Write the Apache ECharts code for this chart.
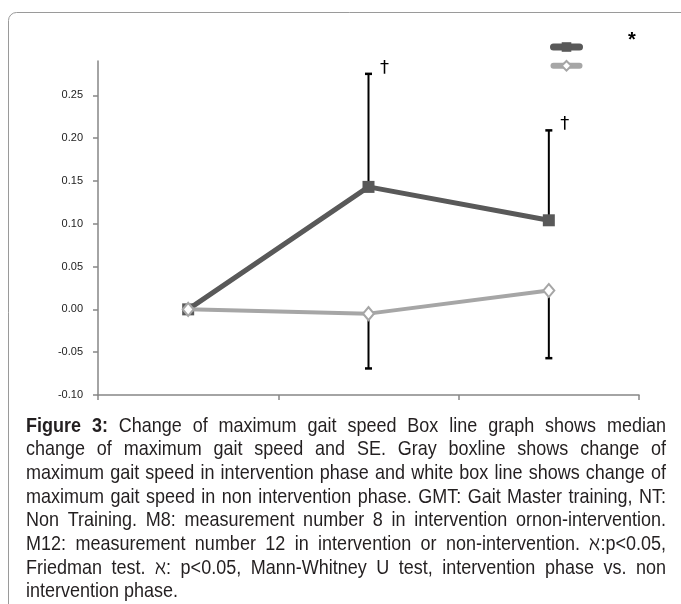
<!DOCTYPE html>
<html>
<head>
<meta charset="utf-8">
<script src="https://cdn.jsdelivr.net/npm/echarts@6/dist/echarts.min.js"></script>
<style>html,body{margin:0;padding:0;background:#fff}#c{width:681px;height:604px}</style>
</head>
<body>
<div id="c"></div>
<script>
// ---- data ----
const categories = ['Start', 'M8', 'M12'];
const gmtValues = [0, 0.143, 0.104];          // dark series (GMT)
const ntValues = [0, -0.005, 0.022];          // light series (NT)
const gmtErrEnd = [null, 0.275, 0.209];       // upper SE bar end
const ntErrEnd = [null, -0.069, -0.057];      // lower SE bar end
const gmtMarks = ['', '†', '†'];
const yTicks = { min: -0.10, max: 0.29, interval: 0.05 };
const captionLines = [
  'Figure 3: Change of maximum gait speed Box line graph shows median',
  'change of maximum gait speed and SE. Gray boxline shows change of',
  'maximum gait speed in intervention phase and white box line shows change of',
  'maximum gait speed in non intervention phase. GMT: Gait Master training, NT:',
  'Non Training. M8: measurement number 8 in intervention ornon-intervention.',
  'M12: measurement number 12 in intervention or non-intervention. \u2135:p<0.05,',
  'Friedman test. \u2135: p<0.05, Mann-Whitney U test, intervention phase vs. non',
  'intervention phase.'
];
const boldWords = 2; // "Figure 3:" bold on first line

// ---- caption layout (justified) ----
const capFont = '"Liberation Sans", Arial, sans-serif';
const capSize = 18;
const capScaleY = 1.12;
const capLeft = 26, capRight = 666, capTop = 426, capLH = 23.7;
const mctx = document.createElement('canvas').getContext('2d');
function measure(t, bold) {
  mctx.font = (bold ? 'bold ' : '') + capSize + 'px ' + capFont;
  return mctx.measureText(t).width;
}
const captionGraphics = [];
captionLines.forEach((line, li) => {
  const words = line.split(' ');
  const widths = words.map((w, wi) => measure(w, li === 0 && wi < boldWords));
  const total = widths.reduce((a, b) => a + b, 0);
  const last = li === captionLines.length - 1;
  const gap = last ? measure(' ', false) : (capRight - capLeft - total) / (words.length - 1);
  let x = capLeft;
  words.forEach((w, wi) => {
    captionGraphics.push({
      type: 'text', x: x, y: capTop + li * capLH, scaleY: capScaleY, silent: true,
      style: {
        text: w, fill: '#231f20', font: (li === 0 && wi < boldWords ? 'bold ' : '') + capSize + 'px ' + capFont,
        verticalAlign: 'middle', align: 'left'
      }
    });
    x += widths[wi] + gap;
  });
});

function errData(values, ends, marks) {
  const out = [];
  values.forEach((v, i) => {
    if (ends[i] !== null) out.push([i, v, ends[i], marks ? marks[i] : '']);
  });
  return out;
}
function errRender(params, api) {
  const p0 = api.coord([api.value(0), api.value(1)]);
  const p1 = api.coord([api.value(0), api.value(2)]);
  const mark = api.value(3);
  const children = [
    { type: 'line', shape: { x1: p0[0], y1: p0[1], x2: p1[0], y2: p1[1] }, style: { stroke: '#000', lineWidth: 2 } },
    { type: 'line', shape: { x1: p1[0] - 3.5, y1: p1[1], x2: p1[0] + 3.5, y2: p1[1] }, style: { stroke: '#000', lineWidth: 2.5 } }
  ];
  if (mark && mark !== '' && mark !== '-') {
    children.push({ type: 'text', x: p1[0] + 16, y: p1[1] - 6,
      style: { text: mark, fill: '#000', font: '18px "DejaVu Sans", sans-serif', align: 'center', verticalAlign: 'middle' } });
  }
  return { type: 'group', children: children };
}

const chart = echarts.init(document.getElementById('c'), null, { renderer: 'canvas' });
chart.setOption({
  animation: false,
  backgroundColor: '#fff',
  grid: { left: 98, right: 42, top: 61, bottom: 209, containLabel: false },
  xAxis: {
    type: 'category', data: categories, boundaryGap: true,
    axisLine: { onZero: false, lineStyle: { color: '#868686', width: 1.5 } },
    axisTick: { show: true, length: 5, inside: false, lineStyle: { color: '#868686', width: 1.5 } },
    axisLabel: { show: false }, splitLine: { show: false }
  },
  yAxis: {
    type: 'value', min: yTicks.min, max: yTicks.max, interval: yTicks.interval,
    axisLine: { show: true, lineStyle: { color: '#868686', width: 1.5 } },
    axisTick: { show: true, length: 5, lineStyle: { color: '#868686', width: 1.5 } },
    axisLabel: { color: '#222', fontSize: 11, fontFamily: 'Liberation Sans, Arial, sans-serif', margin: 15,
      showMaxLabel: false, formatter: v => v.toFixed(2) },
    splitLine: { show: false }
  },
  legend: {
    orient: 'vertical', left: 545, top: 36, itemWidth: 26, itemHeight: 12, itemGap: 8,
    formatter: () => '', textStyle: { fontSize: 1 }, selectedMode: false,
    data: [
      { name: 'GMT', lineStyle: { width: 7, cap: 'round' } },
      { name: 'NT', lineStyle: { width: 6, cap: 'round' } }
    ]
  },
  series: [
    { type: 'custom', name: 'GMT SE', renderItem: errRender, data: errData(gmtValues, gmtErrEnd, gmtMarks), z: 1, silent: true,
      encode: { x: 0, y: [1, 2] } },
    { type: 'custom', name: 'NT SE', renderItem: errRender, data: errData(ntValues, ntErrEnd, null), z: 1, silent: true,
      encode: { x: 0, y: [1, 2] } },
    { type: 'line', name: 'GMT', data: gmtValues, z: 3, symbol: 'rect', symbolSize: 12,
      lineStyle: { color: '#595959', width: 5 }, itemStyle: { color: '#595959' } },
    { type: 'line', name: 'NT', data: ntValues, z: 4, symbol: 'diamond', symbolSize: [11, 13],
      lineStyle: { color: '#a6a6a6', width: 4 }, itemStyle: { color: '#fff', borderColor: '#a6a6a6', borderWidth: 2 } }
  ],
  graphic: [
    { type: 'rect', shape: { x: 8.5, y: 12.5, width: 720, height: 640, r: 8 }, style: { fill: 'none', stroke: '#9a9a9a', lineWidth: 1 }, silent: true },
    { type: 'text', x: 632, y: 40, style: { text: '*', fill: '#000', font: 'bold 20px "Liberation Sans", sans-serif', align: 'center', verticalAlign: 'middle' } }
  ].concat(captionGraphics)
});
</script>
</body>
</html>
